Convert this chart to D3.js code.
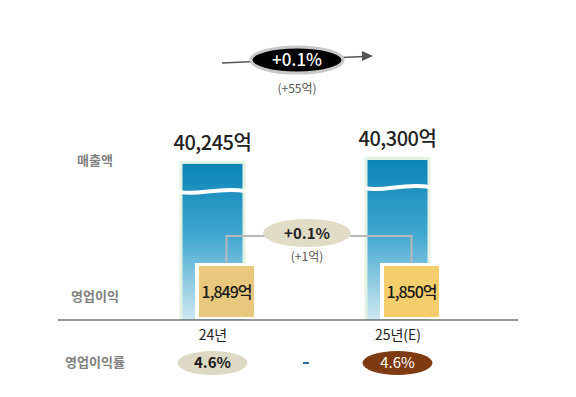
<!DOCTYPE html>
<html>
<head>
<meta charset="utf-8">
<script src="https://cdn.jsdelivr.net/npm/d3@7"></script>
<style>
    body { margin: 0; background: #fff; }
    svg text { font-family: "Noto Sans CJK KR", "Noto Sans", sans-serif; }
</style>
</head>
<body>
<div id="chart"></div>
<script>
// Data
const years = ["24년", "25년(E)"];
const revenue = [40245, 40300];
const revenueLabels = ["40,245억", "40,300억"];
const profit = [1849, 1850];
const profitLabels = ["1,849억", "1,850억"];
const margins = ["4.6%", "4.6%"];
const rowLabels = ["매출액", "영업이익", "영업이익률"];
const revenueChange = ["+0.1%", "(+55억)"];
const profitChange = ["+0.1%", "(+1억)"];

function draw() {
    const width = 576,
        height = 397,
        baseY = 320;

    const svg = d3.select("#chart")
        .append("svg")
        .attr("width", width)
        .attr("height", height);

    const defs = svg.append("defs");
    const grad = defs.append("linearGradient")
        .attr("id", "barGrad")
        .attr("x1", 0).attr("y1", 0).attr("x2", 0).attr("y2", 1);
    grad.append("stop").attr("offset", "0%").attr("stop-color", "#0b84b6");
    grad.append("stop").attr("offset", "45%").attr("stop-color", "#3ea6cf");
    grad.append("stop").attr("offset", "100%").attr("stop-color", "#cfe8f1");

    // scales
    const x = d3.scalePoint()
        .domain(years)
        .range([120, 490])
        .padding(0.5);
    // broken axis for revenue
    const yRev = d3.scaleLinear()
        .domain([38000, 40300])
        .range([baseY, 157]);
    const yProfit = d3.scaleLinear()
        .domain([0, 1850])
        .range([baseY, 266]);

    const barW = 60;

    // revenue bars
    const bars = svg.append("g").selectAll("g")
        .data(years)
        .join("g");

    bars.append("rect")
        .attr("x", d => x(d) - barW / 2 - 3)
        .attr("y", (d, i) => yRev(revenue[i]))
        .attr("width", barW + 6)
        .attr("height", (d, i) => baseY - yRev(revenue[i]))
        .attr("fill", "#e4f2e4");

    bars.append("rect")
        .attr("x", d => x(d) - barW / 2)
        .attr("y", (d, i) => yRev(revenue[i]) + 3)
        .attr("width", barW)
        .attr("height", (d, i) => baseY - yRev(revenue[i]) - 3)
        .attr("fill", "url(#barGrad)");

    // break wave
    bars.append("path")
        .attr("d", (d, i) => {
            const y0 = yRev(revenue[i]) + 31;
            const x0 = x(d) - barW / 2 - 3, x1 = x(d) + barW / 2 + 3;
            const w = x1 - x0;
            return `M${x0},${y0} C${x0 + w * 0.3},${y0 + 4} ${x0 + w * 0.55},${y0 - 5} ${x1},${y0 - 1}`;
        })
        .attr("fill", "none")
        .attr("stroke", "#fff")
        .attr("stroke-width", 4);

    // revenue labels
    svg.append("g").selectAll("text")
        .data(years)
        .join("text")
        .attr("x", d => x(d))
        .attr("y", (d, i) => yRev(revenue[i]) - 11)
        .attr("text-anchor", "middle")
        .attr("font-size", 20)
        .attr("font-weight", 500)
        .attr("letter-spacing", -0.5)
        .attr("fill", "#222")
        .text((d, i) => revenueLabels[i]);

    // connector lines between profit boxes
    const boxOff = 14, boxW = 55;
    const lineY = 236;
    svg.append("path")
        .attr("d", `M${x(years[0]) + boxOff},${yProfit(profit[0])} V${lineY} H${x(years[1]) + boxOff} V${yProfit(profit[1])}`)
        .attr("fill", "none")
        .attr("stroke", "#b8b8b8")
        .attr("stroke-width", 2);

    // profit boxes
    const boxes = svg.append("g").selectAll("g")
        .data(years)
        .join("g");
    boxes.append("rect")
        .attr("x", d => x(d) + boxOff - boxW / 2 - 4)
        .attr("y", (d, i) => yProfit(profit[i]) - 3)
        .attr("width", boxW + 8)
        .attr("height", (d, i) => baseY - yProfit(profit[i]) + 2)
        .attr("fill", "#fff");
    boxes.append("rect")
        .attr("x", d => x(d) + boxOff - boxW / 2)
        .attr("y", (d, i) => yProfit(profit[i]))
        .attr("width", boxW)
        .attr("height", (d, i) => baseY - yProfit(profit[i]) - 3)
        .attr("fill", (d, i) => i === 0 ? "#e8c87c" : "#f4cd6c");
    boxes.append("text")
        .attr("x", d => x(d) + boxOff)
        .attr("y", (d, i) => yProfit(profit[i]) + 32)
        .attr("text-anchor", "middle")
        .attr("font-size", 16)
        .attr("font-weight", 500)
        .attr("letter-spacing", -1)
        .attr("fill", "#1a1a1a")
        .text((d, i) => profitLabels[i]);

    // profit change ellipse
    const midX = (x(years[0]) + x(years[1])) / 2 + 2;
    svg.append("ellipse")
        .attr("cx", midX).attr("cy", 233)
        .attr("rx", 44).attr("ry", 14)
        .attr("fill", "#e0dcc6");
    svg.append("text")
        .attr("x", midX).attr("y", 239)
        .attr("text-anchor", "middle")
        .attr("font-size", 15)
        .attr("font-weight", "bold")
        .attr("fill", "#222")
        .text(profitChange[0]);
    svg.append("text")
        .attr("x", midX).attr("y", 261)
        .attr("text-anchor", "middle")
        .attr("font-size", 12)
        .attr("fill", "#555")
        .text(profitChange[1]);

    // baseline
    svg.append("line")
        .attr("x1", 58).attr("x2", 518)
        .attr("y1", baseY).attr("y2", baseY)
        .attr("stroke", "#333")
        .attr("stroke-width", 1.2);

    // category axis
    const xAxis = d3.axisBottom(x).tickSize(0).tickPadding(10);
    const gx = svg.append("g")
        .attr("transform", `translate(0, ${ baseY })`)
        .call(xAxis);
    gx.select(".domain").remove();
    gx.selectAll("text")
        .attr("font-size", 14)
        .attr("fill", "#222")
        .style("font-family", "\"Noto Sans CJK KR\", sans-serif");

    // row labels
    svg.append("g").selectAll("text")
        .data(rowLabels)
        .join("text")
        .attr("x", 95)
        .attr("y", (d, i) => [165, 301, 367][i])
        .attr("text-anchor", "middle")
        .attr("font-size", 13)
        .attr("font-weight", "bold")
        .attr("fill", "#808080")
        .text(d => d);

    // margin ellipses
    const mg = svg.append("g").selectAll("g")
        .data(years)
        .join("g");
    mg.append("ellipse")
        .attr("cx", d => x(d))
        .attr("cy", 363)
        .attr("rx", 35).attr("ry", 12)
        .attr("fill", (d, i) => i === 0 ? "#ddd9c4" : "#7e3a10");
    mg.append("text")
        .attr("x", d => x(d))
        .attr("y", 368)
        .attr("text-anchor", "middle")
        .attr("font-size", 15)
        .attr("font-weight", (d, i) => i === 0 ? "bold" : "normal")
        .attr("fill", (d, i) => i === 0 ? "#1a1a1a" : "#fff")
        .text((d, i) => margins[i]);
    svg.append("line")
        .attr("x1", midX - 4).attr("x2", midX + 2)
        .attr("y1", 363).attr("y2", 363)
        .attr("stroke", "#2a6c9c")
        .attr("stroke-width", 2);

    // top revenue change arrow
    const topX = 297, topY = 60;
    svg.append("line")
        .attr("x1", 222).attr("y1", 63)
        .attr("x2", 364).attr("y2", 56.5)
        .attr("stroke", "#555")
        .attr("stroke-width", 1.5);
    svg.append("path")
        .attr("d", "M373,56 L362,51 L362,61 Z")
        .attr("fill", "#555");
    svg.append("ellipse")
        .attr("cx", topX).attr("cy", topY)
        .attr("rx", 46).attr("ry", 13)
        .attr("fill", "#000")
        .attr("stroke", "#c8c8c8")
        .attr("stroke-width", 3);
    svg.append("text")
        .attr("x", topX).attr("y", topY + 6)
        .attr("text-anchor", "middle")
        .attr("font-size", 17)
        .attr("font-weight", 500)
        .attr("fill", "#fff")
        .text(revenueChange[0]);
    svg.append("text")
        .attr("x", topX).attr("y", 93)
        .attr("text-anchor", "middle")
        .attr("font-size", 12)
        .attr("fill", "#555")
        .text(revenueChange[1]);
}

document.addEventListener("DOMContentLoaded", draw);
</script>
</body>
</html>
